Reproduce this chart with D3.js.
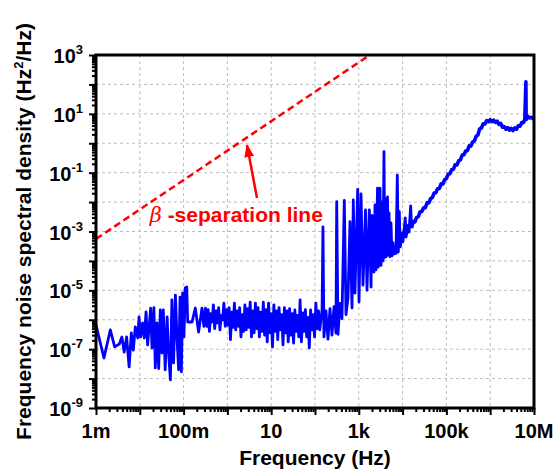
<!DOCTYPE html>
<meta charset="utf-8">
<style>
  body { margin: 0; background: #fff; }
  text { font-family: "Liberation Sans", Arial, sans-serif; font-weight: bold; }
</style>
<script src="https://d3js.org/d3.v7.min.js"></script>
<body></body>
<script>
// values: [frequency Hz, PSD Hz^2/Hz]
var floorPts = [
  [1.0e-3, 6.6e-7], [1.52e-3, 5.0e-8], [2.12e-3, 4.5e-7], [2.67e-3, 1.2e-7], [3.4e-3, 1.5e-7],
  [3.9e-3, 2.6e-7], [4.4e-3, 8.0e-8], [5.0e-3, 2.6e-7], [5.7e-3, 2.5e-8], [6.4e-3, 3.6e-7],
  [7.1e-3, 9.3e-8], [7.9e-3, 5.7e-7], [9.0e-3, 2.4e-7], [9.6e-3, 1.24e-6], [1.05e-2, 2.6e-7],
  [1.16e-2, 7.8e-7], [1.27e-2, 2.4e-7], [1.39e-2, 1.84e-6], [1.51e-2, 1.39e-7], [1.77e-2, 2.5e-6],
  [1.9e-2, 1.1e-7], [2.1e-2, 2.6e-6], [2.26e-2, 2.3e-8], [2.47e-2, 7.8e-7], [2.7e-2, 2.2e-8],
  [2.94e-2, 2.15e-6], [3.2e-2, 7.4e-8], [3.44e-2, 2.15e-6], [3.8e-2, 2.0e-8], [4.2e-2, 1.24e-6],
  [4.6e-2, 5.4e-8], [5.0e-2, 9.0e-9], [5.4e-2, 4.7e-6], [5.9e-2, 3.4e-8], [6.5e-2, 6.9e-6],
  [7.1e-2, 2.1e-7], [7.7e-2, 2.0e-8], [8.3e-2, 5.9e-6], [8.9e-2, 1.7e-8], [9.5e-2, 8.1e-6],
  [0.102, 2.6e-7], [0.109, 1.2e-5], [0.118, 1.3e-5], [0.124, 8.4e-7], [0.156, 8.4e-7],
  [0.185, 2.5e-6], [0.22, 3.8e-7], [0.263, 2.5e-6], [0.29, 6.0e-7],
  [0.316, 2.5e-6], [0.339, 6.0e-7], [0.363, 2.2e-6], [0.389, 4.0e-7], [0.417, 1.6e-6],
  [0.447, 8.4e-7], [0.479, 3.2e-6], [0.513, 5.0e-7], [0.550, 2.0e-6], [0.589, 7.8e-7],
  [0.631, 2.6e-6], [0.676, 4.5e-7], [0.724, 1.4e-6], [0.776, 9.8e-7], [0.832, 3.7e-6],
  [0.891, 6.0e-7], [0.955, 2.2e-6], [1.023, 6.6e-7], [1.096, 2.6e-6], [1.175, 2.1e-7],
  [1.259, 1.8e-6], [1.349, 5.5e-7], [1.445, 3.7e-6], [1.549, 4.5e-7], [1.660, 2.0e-6],
  [1.778, 6.0e-7], [1.905, 2.6e-6], [2.042, 2.6e-7], [2.188, 1.5e-6], [2.344, 4.0e-7],
  [2.512, 3.2e-6], [2.692, 4.5e-7], [2.884, 2.4e-6], [3.090, 5.5e-7], [3.311, 4.0e-6],
  [3.548, 2.6e-7], [3.802, 2.0e-6], [4.074, 3.6e-7], [4.365, 3.7e-6], [4.677, 5.0e-7],
  [5.012, 2.6e-6], [5.370, 2.6e-7], [5.754, 1.8e-6], [6.166, 4.0e-7], [6.607, 4.0e-6],
  [7.079, 3.0e-7], [7.586, 2.2e-6], [8.128, 1.76e-7], [8.710, 3.7e-6], [9.333, 3.6e-7],
  [10.0, 1.6e-6], [10.7, 1.2e-7], [11.5, 3.2e-6], [12.3, 4.0e-7], [13.2, 2.0e-6],
  [14.1, 2.1e-7], [15.1, 2.6e-6], [16.2, 4.5e-7], [17.4, 1.5e-6], [18.6, 1.4e-7],
  [20.0, 2.6e-6], [21.4, 3.6e-7], [22.9, 2.0e-6], [24.5, 1.76e-7], [26.3, 2.4e-6],
  [28.2, 3.0e-7], [30.2, 1.6e-6], [32.4, 1.6e-7], [34.7, 2.15e-6], [37.2, 4.0e-7],
  [39.8, 1.4e-6], [42.7, 2.6e-7], [45.7, 4.7e-6], [49.0, 1.76e-7], [52.5, 1.7e-6],
  [56.2, 4.0e-7], [60.3, 2.2e-6], [64.6, 2.6e-7], [69.2, 1.2e-6], [74.1, 1.1e-7],
  [79.4, 2.15e-6], [85.1, 4.5e-7], [91.2, 1.5e-6], [97.7, 2.6e-7], [104.7, 3.7e-6],
  [112.2, 5.0e-7], [120.2, 2.0e-6], [128.8, 4.5e-7]
];
var spikePts = [
  [145, 2.2e-6], [152, 1.43e-3], [160, 2.6e-7], [178, 2.0e-6], [198, 2.2e-7],
  [220, 2.4e-6], [244, 3.0e-7], [272, 2.8e-6], [301, 3.5e-7], [313, 1.03e-2],
  [335, 3.2e-7], [372, 3.6e-6], [413, 1.1e-6], [467, 1.13e-2], [510, 1.5e-6],
  [567, 5.5e-6], [630, 2.16e-3], [700, 2.5e-6], [749, 1.18e-2], [818, 8.0e-6],
  [944, 2.72e-2], [1011, 4.0e-6], [1122, 1.88e-2], [1247, 1.5e-5], [1422, 5.4e-3],
  [1538, 1.0e-5], [1738, 5.4e-3], [1901, 1.3e-5], [2000, 3.5e-3], [2145, 2.9e-3],
  [2223, 4.2e-5], [2344, 8.0e-3], [2471, 5.0e-5], [2673, 3.0e-2], [2787, 6.2e-5],
  [2891, 1.2e-2], [3048, 3.0e-2], [3214, 7.0e-5], [3388, 1.0e-2], [3573, 1.0e-4],
  [3758, 0.516], [3908, 1.3e-4], [4070, 1.3e-2], [4246, 1.4e-4], [4520, 1.49e-2],
  [4720, 1.6e-4], [4890, 4.3e-3], [5150, 1.4e-4], [5430, 1.95e-3], [5730, 1.5e-4],
  [6040, 4.1e-4], [6370, 1.7e-4], [6700, 2.75e-4], [7060, 1.8e-4], [7570, 8.3e-2],
  [7980, 2.0e-4], [8410, 4.7e-3], [8850, 3.0e-4], [9680, 9.0e-4], [1.02e4, 4.5e-4],
  [1.15e4, 2.9e-3], [1.2e4, 6.5e-4], [1.33e4, 1.6e-3], [1.40e4, 9.5e-4], [1.53e4, 7.4e-3],
  [1.6e4, 1.3e-3]
];
var risePts = [
  [1.6e4, 1.3e-3], [1.74e4, 2.17e-3], [1.91e4, 2.12e-3], [2.09e4, 3.01e-3], [2.29e4, 3.22e-3],
  [2.51e4, 4.67e-3], [2.75e4, 4.78e-3], [3.02e4, 6.44e-3], [3.31e4, 6.46e-3], [3.63e4, 9.55e-3],
  [3.98e4, 9.35e-3], [4.37e4, 1.32e-2], [4.79e4, 1.42e-2], [5.25e4, 2.05e-2], [5.75e4, 2.10e-2],
  [6.31e4, 2.84e-2], [6.92e4, 2.90e-2], [7.59e4, 4.20e-2], [8.32e4, 4.11e-2], [9.12e4, 5.81e-2],
  [1.0e5, 6.24e-2], [1.10e5, 9.02e-2], [1.20e5, 9.23e-2], [1.32e5, 0.125], [1.45e5, 0.131],
  [1.58e5, 0.185], [1.74e5, 0.181], [1.91e5, 0.255], [2.09e5, 0.274], [2.29e5, 0.396],
  [2.51e5, 0.406], [2.75e5, 0.548], [3.02e5, 0.56], [3.31e5, 0.813], [3.63e5, 0.794],
  [3.98e5, 1.12], [4.37e5, 1.21], [4.79e5, 1.74], [5.25e5, 1.91]
];
var humpPts = [
  [5.25e5, 1.91], [5.75e5, 3.1], [6.31e5, 3.3], [6.92e5, 4.6], [7.59e5, 4.5], [8.32e5, 5.9],
  [9.12e5, 5.4], [1.0e6, 6.3], [1.10e6, 5.4], [1.20e6, 6.1], [1.32e6, 5.1],
  [1.45e6, 5.6], [1.58e6, 4.4], [1.74e6, 4.7], [1.91e6, 3.5], [2.09e6, 3.7],
  [2.29e6, 3.0], [2.51e6, 3.4], [2.75e6, 2.8], [3.02e6, 3.2], [3.31e6, 2.7],
  [3.63e6, 3.3], [3.98e6, 3.0], [4.37e6, 3.9], [4.79e6, 3.8], [5.25e6, 5.1],
  [5.75e6, 5.0], [6.17e6, 6.5], [6.53e6, 123], [6.61e6, 6.4], [7.24e6, 8.2],
  [7.94e6, 7.2], [8.71e6, 7.6], [1.0e7, 6.6]
];

var xTickVals = [1e-3, 1e-1, 1e1, 1e3, 1e5, 1e7];
var xTickText = ["1m", "100m", "10", "1k", "100k", "10M"];
var yTickExp = [3, 1, -1, -3, -5, -7, -9];

var betaLine = [[1e-3, 5.6e-4], [1.78e3, 1e3]];
var arrowFrom = [4.74, 0.0138], arrowTo = [2.8, 0.87];
var labelAt = [0.0168, 2.1e-3];

var width = 557, height = 471;
var margin = {left: 96, top: 55, right: 23, bottom: 63};
var w = width - margin.left - margin.right,
    h = height - margin.top - margin.bottom;

var svg = d3.select("body").append("svg")
    .attr("width", width)
    .attr("height", height);

var g = svg.append("g")
    .attr("transform", "translate(" + margin.left + "," + margin.top + ")");

var x = d3.scaleLog().domain([1e-3, 1e7]).range([0, w]);
var y = d3.scaleLog().domain([1e-9, 1e3]).range([h, 0]);

var decX = d3.range(-3, 8).map(function(e) { return Math.pow(10, e); });
var decY = d3.range(-9, 4).map(function(e) { return Math.pow(10, e); });
var minor = function(decs) {
  var out = [];
  decs.slice(0, -1).forEach(function(d) {
    for (var k = 2; k < 10; k++) out.push(d * k);
  });
  return out;
};

// grid
g.append("g").selectAll("line").data(decX.slice(1, -1)).enter().append("line")
    .attr("x1", x).attr("x2", x).attr("y1", 0).attr("y2", h)
    .attr("stroke", "#bdbdbd").attr("stroke-width", 1).attr("stroke-dasharray", "3,3");
g.append("g").selectAll("line").data(decY.slice(1, -1)).enter().append("line")
    .attr("y1", y).attr("y2", y).attr("x1", 0).attr("x2", w)
    .attr("stroke", "#bdbdbd").attr("stroke-width", 1).attr("stroke-dasharray", "3,3");

g.append("clipPath").attr("id", "clip").append("rect")
    .attr("width", w).attr("height", h);

var line = d3.line()
    .x(function(d) { return x(d[0]); })
    .y(function(d) { return y(d[1]); });

// beta-separation line
g.append("path").datum(betaLine)
    .attr("clip-path", "url(#clip)")
    .attr("d", line)
    .attr("fill", "none").attr("stroke", "#ff0000")
    .attr("stroke-width", 2.5).attr("stroke-dasharray", "7,4");

// measured noise
g.append("path").datum(floorPts.concat(spikePts))
    .attr("clip-path", "url(#clip)")
    .attr("d", line)
    .attr("fill", "none").attr("stroke", "#0000ff")
    .attr("stroke-width", 2.8).attr("stroke-linejoin", "round");
g.append("path").datum(risePts.concat(humpPts))
    .attr("clip-path", "url(#clip)")
    .attr("d", line)
    .attr("fill", "none").attr("stroke", "#0000ff")
    .attr("stroke-width", 3.6).attr("stroke-linejoin", "round");

// annotation
svg.append("defs").append("marker")
    .attr("id", "head")
    .attr("markerUnits", "userSpaceOnUse")
    .attr("markerWidth", 14).attr("markerHeight", 10)
    .attr("refX", 12).attr("refY", 5)
    .attr("orient", "auto")
  .append("path")
    .attr("d", "M0,0 L13,5 L0,10 Z")
    .attr("fill", "#ff0000");

g.append("line")
    .attr("x1", x(arrowFrom[0])).attr("y1", y(arrowFrom[1]))
    .attr("x2", x(arrowTo[0])).attr("y2", y(arrowTo[1]))
    .attr("stroke", "#ff0000").attr("stroke-width", 2.5)
    .attr("marker-end", "url(#head)");

var lab = g.append("text")
    .attr("x", x(labelAt[0])).attr("y", y(labelAt[1]))
    .attr("fill", "#ff0000").style("font-size", "21px");
lab.append("tspan").style("font-style", "italic").style("font-weight", "normal")
    .style("font-family", "'DejaVu Serif', serif").text("\u03b2");
lab.append("tspan").text(" -separation line");

// frame
g.append("rect").attr("width", w).attr("height", h)
    .attr("fill", "none").attr("stroke", "#000").attr("stroke-width", 3);

// x axis
var xAxisG = g.append("g").attr("transform", "translate(0," + h + ")");
xAxisG.append("g").call(d3.axisBottom(x).tickValues(minor(decX)).tickSize(4).tickFormat(""));
xAxisG.append("g").call(d3.axisBottom(x).tickValues(decX).tickSize(7).tickFormat(""));
xAxisG.selectAll(".domain").remove();
xAxisG.selectAll(".tick line").attr("stroke-width", 2);
xAxisG.selectAll(".xlab").data(xTickVals).enter().append("text")
    .attr("class", "xlab")
    .attr("x", x).attr("y", 30)
    .attr("text-anchor", "middle")
    .style("font-size", "20px")
    .text(function(d, i) { return xTickText[i]; });

// y axis
var yAxisG = g.append("g");
yAxisG.append("g").call(d3.axisLeft(y).tickValues(minor(decY)).tickSize(4).tickFormat(""));
yAxisG.append("g").call(d3.axisLeft(y).tickValues(decY).tickSize(7).tickFormat(""));
yAxisG.selectAll(".domain").remove();
yAxisG.selectAll(".tick line").attr("stroke-width", 2);
var ylab = yAxisG.selectAll(".ylab").data(yTickExp).enter().append("text")
    .attr("class", "ylab")
    .attr("x", -13)
    .attr("y", function(d) { return y(Math.pow(10, d)) + 8; })
    .attr("text-anchor", "end")
    .style("font-size", "20px");
ylab.append("tspan").text("10");
ylab.append("tspan").attr("dy", -9).style("font-size", "13px").text(function(d) { return d; });

// axis titles
g.append("text")
    .attr("x", w / 2).attr("y", h + 57)
    .attr("text-anchor", "middle")
    .style("font-size", "21px")
    .text("Frequency (Hz)");

var yt = g.append("text")
    .attr("transform", "rotate(-90)")
    .attr("x", -h / 2).attr("y", -65)
    .attr("text-anchor", "middle")
    .style("font-size", "21px");
yt.append("tspan").text("Frequency noise spectral density (Hz");
yt.append("tspan").attr("dy", -8).style("font-size", "13px").text("2");
yt.append("tspan").attr("dy", 8).text("/Hz)");
</script>
